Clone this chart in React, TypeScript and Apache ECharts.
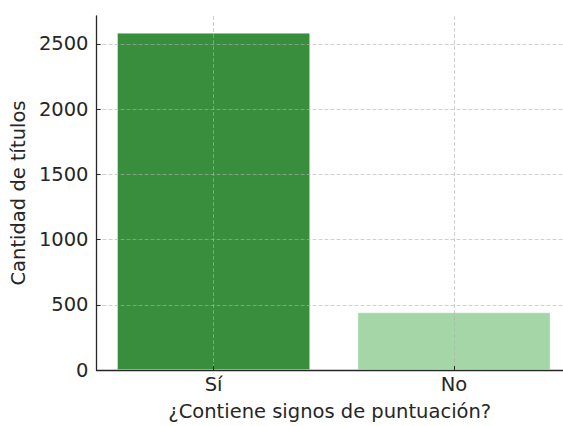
import React, { useEffect, useRef } from "react";
import * as echarts from "echarts";

const categories = ["Sí", "No"];
const counts = [2584, 442];
const barColors = ["#388E3C", "#A5D6A7"];
const yTicks = [0, 500, 1000, 1500, 2000, 2500];
const yMax = 2713;
const xMin = -0.487;
const xMax = 1.4535;
const xTitle = "¿Contiene signos de puntuación?";
const yTitle = "Cantidad de títulos";

const FONT = "DejaVu Sans";
const FS = 19.5;
const TEXT = "#262626";
const GRID = { color: "rgba(176,176,176,0.75)", type: [4, 2] as number[], width: 0.8 };

export default function App() {
  const ref = useRef<HTMLDivElement>(null);
  useEffect(() => {
    if (!ref.current) return;
    const chart = echarts.init(ref.current, undefined, { renderer: "svg" });
    const catIdx = categories.map((_, i) => i);
    chart.setOption({
      animation: false,
      grid: { left: 96, top: 16, right: 0, bottom: 55, containLabel: false },
      xAxis: {
        type: "value",
        min: xMin,
        max: xMax,
        z: 3,
        axisLine: { show: true, onZero: false, lineStyle: { color: TEXT, width: 1.3 } },
        axisTick: { show: true, inside: true, length: 4, customValues: catIdx, lineStyle: { color: TEXT } },
        axisLabel: {
          customValues: catIdx,
          formatter: (v: number) => categories[Math.round(v)] ?? "",
          color: TEXT,
          fontFamily: FONT,
          fontSize: FS,
          margin: 4,
        },
        splitLine: { show: true, lineStyle: GRID },
        name: xTitle,
        nameLocation: "middle",
        nameGap: 31,
        nameTextStyle: { color: TEXT, fontFamily: FONT, fontSize: FS, padding: [0, 0, 0, 0] },
      },
      yAxis: {
        type: "value",
        min: 0,
        max: yMax,
        z: 3,
        axisLine: { show: true, onZero: false, lineStyle: { color: TEXT, width: 1.3 } },
        axisTick: { show: true, inside: true, length: 4, customValues: yTicks, lineStyle: { color: TEXT } },
        axisLabel: {
          customValues: yTicks,
          formatter: (v: number) => String(v),
          color: TEXT,
          fontFamily: FONT,
          fontSize: FS,
          margin: 8,
        },
        splitLine: { show: true, lineStyle: GRID },
        name: yTitle,
        nameLocation: "middle",
        nameGap: 66,
        nameTextStyle: { color: TEXT, fontFamily: FONT, fontSize: FS },
      },
      series: [
        {
          type: "bar",
          barWidth: 193,
          data: counts.map((c, i) => ({
            value: [i, c],
            itemStyle: { color: barColors[i], borderColor: "rgba(255,255,255,0.5)", borderWidth: 0.8 },
          })),
        },
      ],
    });
    return () => chart.dispose();
  }, []);
  return <div ref={ref} style={{ width: 563, height: 426, position: "absolute", left: 0, top: 0 }} />;
}
